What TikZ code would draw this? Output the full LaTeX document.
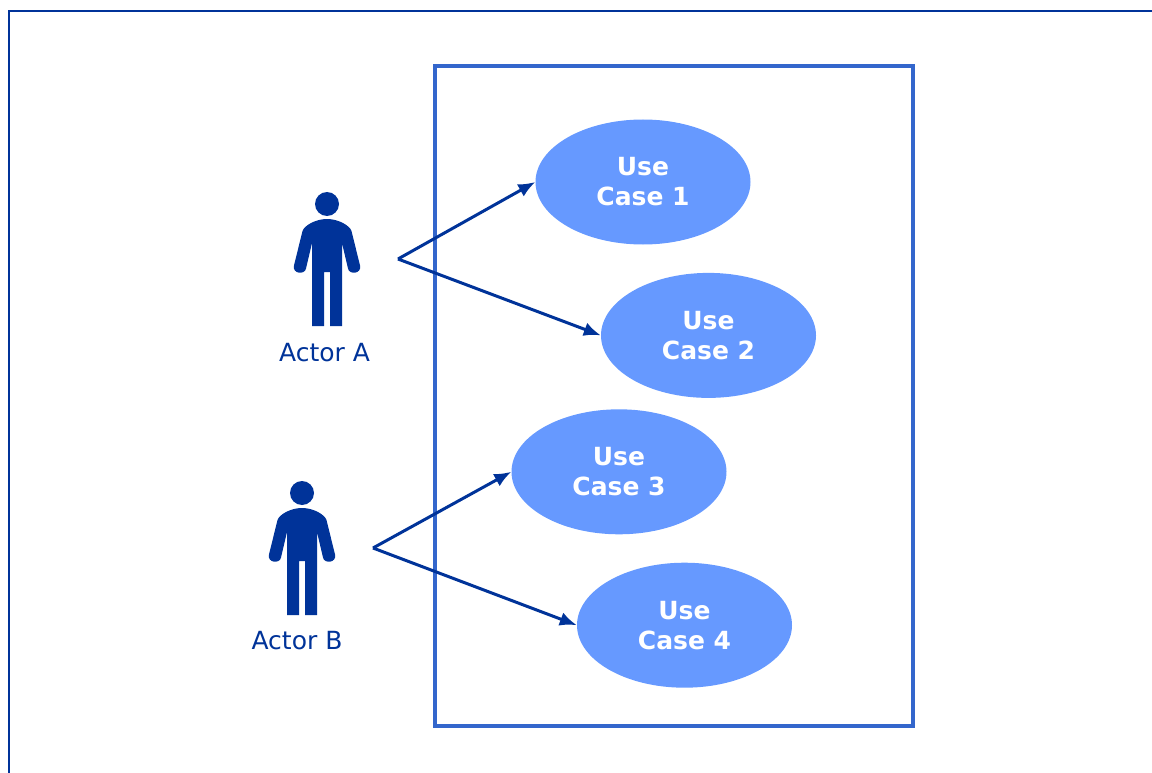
\documentclass[tikz,border=0pt]{standalone}
\usepackage{fontspec}
\setmainfont{DejaVu Sans}
\usepackage{xcolor}
\usetikzlibrary{positioning}
\usetikzlibrary{arrows.meta}
\usetikzlibrary{shapes.geometric}
\definecolor{actorcolor}{RGB}{0, 51, 153}
\definecolor{boxcolor}{RGB}{51, 102, 204}
\definecolor{casecolor}{RGB}{102, 153, 255}
\tikzstyle{ucase} = [
	ellipse,
	fill=casecolor,
	text=white,
	inner sep=0pt,
	minimum width=215pt,
	minimum height=125pt,
	align=center,
	font=\fontsize{25}{30}\selectfont\bfseries
]
\tikzstyle{sysbox} = [
	draw=boxcolor,
	line width=3.5pt,
	minimum width=478pt,
	minimum height=660pt
]
\tikzstyle{actorlabel} = [
	text=actorcolor,
	inner sep=0pt,
	font=\fontsize{25}{30}\selectfont
]
\tikzstyle{assoc} = [
	draw=actorcolor,
	line width=3pt,
	-{Latex[length=17pt,width=14pt]}
]
\tikzset{
	actor/.pic={
		\fill[actorcolor] (0,0) circle (12);
		\fill[actorcolor] (-15,122) -- (-3,122) -- (-3,68) -- (3,68) -- (3,122) -- (15,122)
			-- (15,39) -- (21,64.5) .. controls (22,71) and (35,70) .. (33,61.5)
			-- (24.5,27) .. controls (23,22) and (12,15) .. (0,15)
			.. controls (-12,15) and (-23,22) .. (-24.5,27)
			-- (-33,61.5) .. controls (-35,70) and (-22,71) .. (-21,64.5)
			-- (-15,39) -- cycle;
	}
}

\begin{document}
\begin{tikzpicture}[x=1pt,y=-1pt,node distance=0pt and 0pt]
	\useasboundingbox (0,0) rectangle (1152,773);
	
	%
	% Outer frame
	\coordinate (fbl) at (9,773);
	\coordinate (ftl) at (9,11);
	\coordinate (ftr) at (1152,11);
	\draw[actorcolor, line width=2pt] (fbl) -- (ftl) -- (ftr);
	
	%
	% System box
	\node[sysbox] (sys) at (674,396) {};
	
	%
	% Use cases
	\node[ucase] (uc1) at (643,182) {Use\\Case 1};
	\node[ucase, below=28pt of uc1, xshift=65.5pt] (uc2) {Use\\Case 2};
	\node[ucase, below=11pt of uc2, xshift=-89.5pt] (uc3) {Use\\Case 3};
	\node[ucase, below=28pt of uc3, xshift=65.5pt] (uc4) {Use\\Case 4};
	
	%
	% Actors
	\coordinate (a1) at (327,204);
	\coordinate (a2) at (302,493);
	\pic at (a1) {actor};
	\pic at (a2) {actor};
	\node[actorlabel, below=139pt of a1, xshift=-2.5pt] (a1label) {Actor A};
	\node[actorlabel, below=138pt of a2, xshift=-5pt] (a2label) {Actor B};
	
	%
	% Associations
	\coordinate (a1out) at (398,259);
	\coordinate (a2out) at (373,548);
	\draw[assoc] (a1out) -- (uc1.west);
	\draw[assoc] (a1out) -- (uc2.west);
	\draw[assoc] (a2out) -- (uc3.west);
	\draw[assoc] (a2out) -- (uc4.west);
	
\end{tikzpicture}
\end{document}
